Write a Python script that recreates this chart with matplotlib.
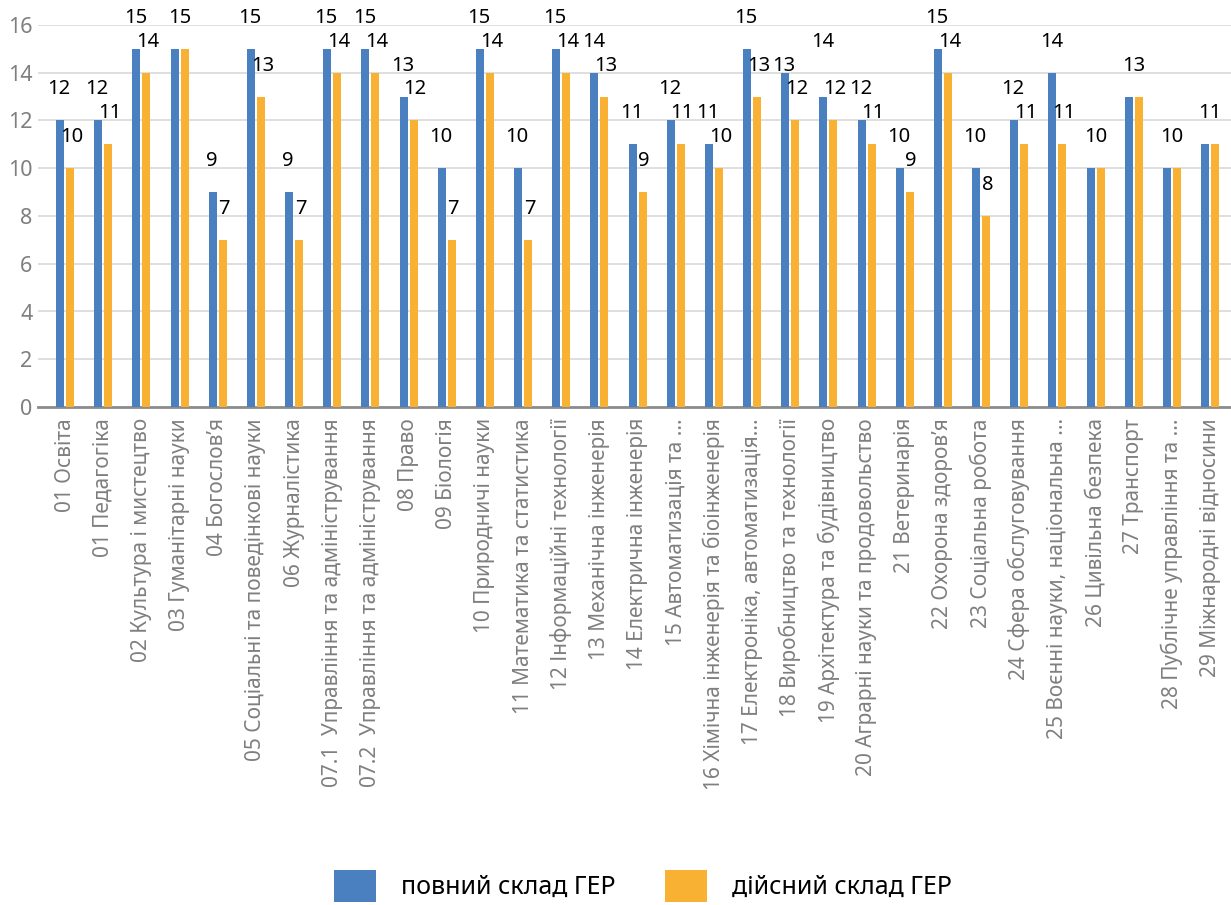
import matplotlib
matplotlib.use("Agg")
import matplotlib.pyplot as plt
import numpy as np

plt.rcParams['font.family'] = ['Noto Sans', 'DejaVu Sans']

categories = ["01 Освіта", "01 Педагогіка", "02 Культура і мистецтво", "03 Гуманітарні науки",
              "04 Богослов’я", "05 Соціальні та поведінкові науки", "06 Журналістика",
              "07.1  Управління та адміністрування", "07.2  Управління та адміністрування",
              "08 Право", "09 Біологія", "10 Природничі науки", "11 Математика та статистика",
              "12 Інформаційні технології", "13 Механічна інженерія", "14 Електрична інженерія",
              "15 Автоматизація та ...", "16 Хімічна інженерія та біоінженерія",
              "17 Електроніка, автоматизація...", "18 Виробництво та технології",
              "19 Архітектура та будівництво", "20 Аграрні науки та продовольство",
              "21 Ветеринарія", "22 Охорона здоров’я", "23 Соціальна робота",
              "24 Сфера обслуговування", "25 Воєнні науки, національна ...",
              "26 Цивільна безпека", "27 Транспорт", "28 Публічне управління та ...",
              "29 Міжнародні відносини"]

full = [12, 12, 15, 15, 9, 15, 9, 15, 15, 13, 10, 15, 10, 15, 14, 11, 12, 11, 15, 14,
        13, 12, 10, 15, 10, 12, 14, 10, 13, 10, 11]
actual = [10, 11, 14, 15, 7, 13, 7, 14, 14, 12, 7, 14, 7, 14, 13, 9, 11, 10, 13, 12,
          12, 11, 9, 14, 8, 11, 11, 10, 13, 10, 11]

# data labels as shown on the chart (None = label not shown)
label_full = [12, 12, 15, 15, 9, 15, 9, 15, 15, 13, 10, 15, 10, 15, 14, 11, 12, 11, 15, 13,
              14, 12, 10, 15, 10, 12, 14, 10, 13, 10, 11]
label_actual = [10, 11, 14, None, 7, 13, 7, 14, 14, 12, 7, 14, 7, 14, 13, 9, 11, 10, 13, 12,
                12, 11, 9, 14, 8, 11, 11, None, None, None, None]

series_names = ["повний склад ГЕР", "дійсний склад ГЕР"]
colors = ["#4a7fc0", "#f8b133"]

W, H = 1231, 905
fig = plt.figure(figsize=(W / 100, H / 100), dpi=100)
ax = fig.add_axes([38 / W, 1 - 407 / H, 1 - 38 / W, (407 - 25) / H])

x = np.arange(len(categories))
bw = 0.21
off = 0.131
b1 = ax.bar(x - off, full, width=bw, color=colors[0], label=series_names[0], zorder=3)
b2 = ax.bar(x + off, actual, width=bw, color=colors[1], label=series_names[1], zorder=3)

for i in x:
    lf, la = label_full[i], label_actual[i]
    if lf is not None:
        xf = i - 0.16 if la is not None else i
        ax.text(xf, lf + 1.3, str(lf), ha='center', va='center', fontsize=14.5,
                color='black', clip_on=False, zorder=4)
    if la is not None:
        ax.text(i + 0.17, la + 1.3, str(la), ha='center', va='center', fontsize=14.5,
                color='black', clip_on=False, zorder=4)

ax.set_ylim(0, 16)
ax.set_xlim(-0.71, len(categories) - 1 + 0.55)
ax.set_yticks(range(0, 17, 2))
ax.yaxis.grid(True, color='#d9d9d9', linewidth=1.2, zorder=0)
ax.set_axisbelow(True)
for s in ['top', 'right', 'left']:
    ax.spines[s].set_visible(False)
ax.spines['bottom'].set_color('#8c8c8c')
ax.spines['bottom'].set_linewidth(2)
ax.tick_params(axis='y', length=0, pad=4, labelsize=15.5, labelcolor='#7f7f7f')
ax.tick_params(axis='x', length=0, pad=8, labelsize=15, labelcolor='#7f7f7f')
ax.set_xticks(x)
ax.set_xticklabels(categories, rotation=90, ha='center', va='top')

fig.legend(handles=[b1, b2], labels=series_names, loc='center',
           bbox_to_anchor=(643 / W, 1 - 886 / H), ncol=2, frameon=False,
           fontsize=18, handlelength=1.65, handleheight=1.55, handletextpad=1.0,
           columnspacing=2.0)

fig.savefig("out.png", dpi=100)
